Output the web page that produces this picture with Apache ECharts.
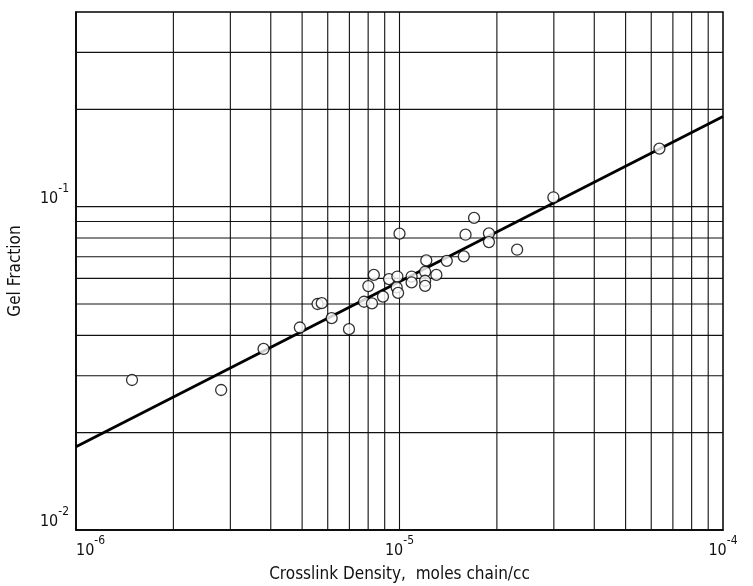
<!DOCTYPE html>
<html>
<head>
<meta charset="utf-8">
<script src="https://cdn.jsdelivr.net/npm/echarts@6/dist/echarts.min.js"></script>
<style>html,body{margin:0;padding:0;background:#fff}#c{width:753px;height:586px}</style>
</head>
<body>
<div id="c"></div>
<script>
// Crosslink density (moles chain/cc) and gel fraction
const crosslink = [1.49e-6, 2.81e-6, 3.80e-6, 4.92e-6, 5.58e-6, 5.75e-6, 6.17e-6, 6.98e-6, 7.77e-6, 8.22e-6,
  8.01e-6, 8.33e-6, 8.89e-6, 9.28e-6, 9.85e-6, 9.80e-6, 9.90e-6, 1.00e-5, 1.09e-5, 1.09e-5,
  1.20e-5, 1.20e-5, 1.20e-5, 1.21e-5, 1.30e-5, 1.40e-5, 1.58e-5, 1.60e-5, 1.70e-5, 1.89e-5,
  1.89e-5, 2.31e-5, 2.99e-5, 6.36e-5];
const gelFraction = [0.0291, 0.0271, 0.0363, 0.0423, 0.0500, 0.0503, 0.0452, 0.0418, 0.0508, 0.0502,
  0.0568, 0.0615, 0.0527, 0.0597, 0.0608, 0.0563, 0.0541, 0.0825, 0.0608, 0.0583,
  0.0629, 0.0590, 0.0569, 0.0682, 0.0615, 0.0680, 0.0702, 0.0819, 0.0923, 0.0827,
  0.0777, 0.0736, 0.1069, 0.1512];
// fitted straight line end points
const fitX = [1e-6, 1e-4];
const fitY = [0.0181, 0.190];
// grid lines
const xGrid = [2e-6, 3e-6, 4e-6, 5e-6, 6e-6, 7e-6, 8e-6, 9e-6, 1e-5, 2e-5, 3e-5, 4e-5, 5e-5, 6e-5, 7e-5, 8e-5, 9e-5];
const yGrid = [0.02, 0.03, 0.04, 0.05, 0.06, 0.07, 0.08, 0.09, 0.1, 0.2, 0.3];
const xRange = [1e-6, 1e-4];
const yRange = [0.01, 0.4];

const FONT = "'Liberation Sans Narrow', 'DejaVu Sans Condensed', 'Liberation Sans', sans-serif";

function powLabel(v) {
  const e = Math.round(Math.log10(v));
  if (Math.abs(v - Math.pow(10, e)) / v > 1e-6) return '';
  return '{b|10}{s|' + e + '}';
}
const rich = {
  b: { fontSize: 16, fontFamily: FONT, color: '#111', lineHeight: 24, verticalAlign: 'bottom' },
  s: { fontSize: 12, fontFamily: FONT, color: '#111', lineHeight: 24, verticalAlign: 'top' }
};

const gridSeries = xGrid.map(v => ({
  type: 'line', data: [[v, yRange[0]], [v, yRange[1]]], symbol: 'none', silent: true, z: 1,
  lineStyle: { color: '#111', width: 1.1 }
})).concat(yGrid.map(v => ({
  type: 'line', data: [[xRange[0], v], [xRange[1], v]], symbol: 'none', silent: true, z: 1,
  lineStyle: { color: '#111', width: 1.1 }
})));

const chart = echarts.init(document.getElementById('c'), null, { renderer: 'canvas' });
chart.setOption({
  animation: false,
  backgroundColor: '#fff',
  grid: { left: 76, right: 30, top: 12, bottom: 56, show: true, borderColor: '#000', borderWidth: 1.5,
          containLabel: false, outerBoundsMode: 'none' },
  xAxis: {
    type: 'log', logBase: 10, min: xRange[0], max: xRange[1],
    name: 'Crosslink Density,  moles chain/cc', nameLocation: 'middle', nameGap: 36,
    nameTextStyle: { fontSize: 17, fontFamily: FONT, color: '#111' },
    axisLine: { show: true, lineStyle: { color: '#000', width: 1.5 } },
    axisTick: { show: false },
    splitLine: { show: false },
    axisLabel: { formatter: powLabel, rich: rich, margin: 5, alignMinLabel: 'left' }
  },
  yAxis: {
    type: 'log', logBase: 10, min: yRange[0], max: yRange[1],
    name: 'Gel Fraction', nameLocation: 'middle', nameGap: 52,
    nameTextStyle: { fontSize: 17, fontFamily: FONT, color: '#111' },
    axisLine: { show: true, lineStyle: { color: '#000', width: 1.5 } },
    axisTick: { show: false },
    splitLine: { show: false },
    axisLabel: { formatter: powLabel, rich: rich, margin: 7, verticalAlign: 'bottom' }
  },
  series: gridSeries.concat([
    {
      type: 'line', data: fitX.map((x, i) => [x, fitY[i]]), symbol: 'none',
      lineStyle: { color: '#000', width: 2.8 }, z: 3
    },
    {
      type: 'scatter', data: crosslink.map((x, i) => [x, gelFraction[i]]),
      symbol: 'circle', symbolSize: 11, z: 4,
      itemStyle: { color: '#fff', borderColor: '#000', borderWidth: 1.3 }
    }
  ])
});
</script>
</body>
</html>
